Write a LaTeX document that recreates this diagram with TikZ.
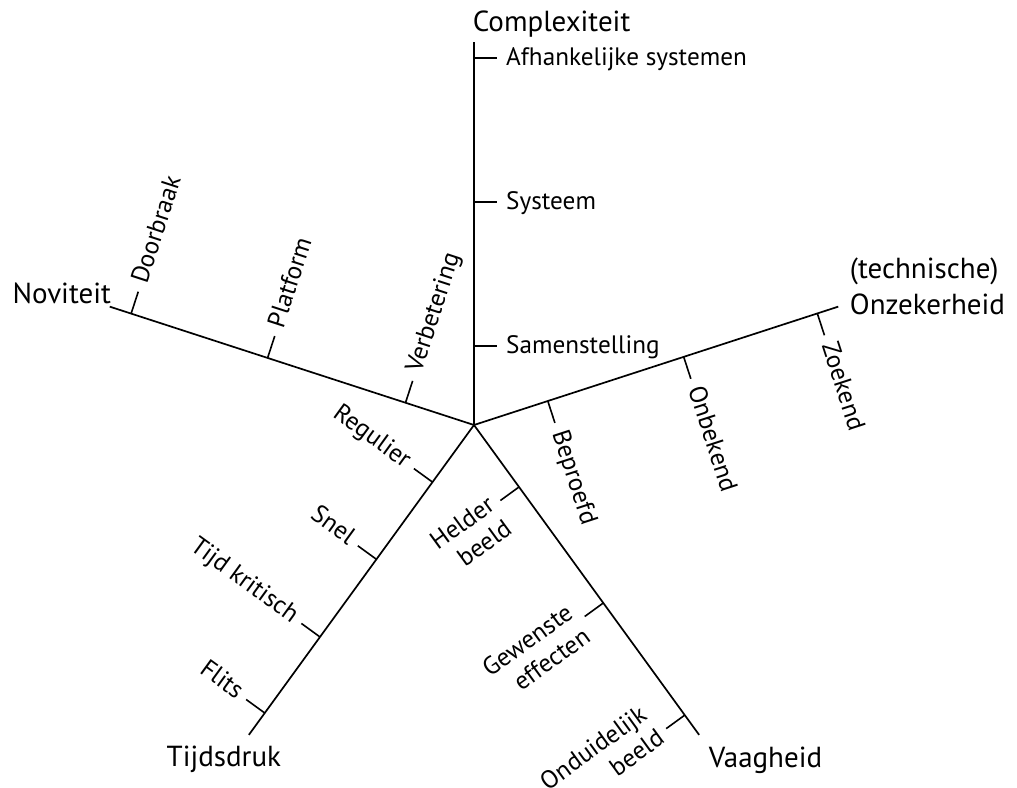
\documentclass[tikz,border=0pt]{standalone}
\usepackage{fontspec}
\setmainfont{PT Sans}
\usetikzlibrary{calc}
\begin{document}
\begin{tikzpicture}[x=1pt,y=1pt,
  axisline/.style={line width=1.7pt},
  tickline/.style={line width=1.6pt},
  lbl/.style={inner sep=0pt, font=\fontsize{25.2}{29.5}\selectfont},
  big/.style={inner sep=0pt, font=\fontsize{29}{35.7}\selectfont}]
\useasboundingbox (-474,-362) rectangle (543,425);
\coordinate (C) at (0,0);
\coordinate (Ce) at (90:383pt);
\coordinate (Ne) at (162:383pt);
\coordinate (Oe) at (18:383pt);
\coordinate (Te) at (234:383pt);
\coordinate (Ve) at (306:383pt);
\foreach \e in {Ce,Ne,Oe,Te,Ve} {\draw[axisline] (C) -- (\e);}
% Complexiteit
\foreach \d/\t/\n in {367/Afhankelijke systemen/c1, 223/Systeem/c2, 79/Samenstelling/c3} {
  \coordinate (\n b) at (90:\d pt);
  \coordinate (\n t) at ($(\n b)+(0:23pt)$);
  \draw[tickline] (\n b) -- (\n t);
  \node[lbl, anchor=base west] (\n) at ($(\n t)+(0:9pt)+(90:-8pt)$) {\t};
}
% Noviteit
\foreach \d/\t/\n in {360.5/Doorbraak/n1, 217/Platform/n2, 72/Verbetering/n3} {
  \coordinate (\n b) at (162:\d pt);
  \coordinate (\n t) at ($(\n b)+(72:23pt)$);
  \draw[tickline] (\n b) -- (\n t);
  \node[lbl, rotate=72, anchor=base west] (\n) at ($(\n t)+(72:9pt)+(162:-6pt)$) {\t};
}
% Onzekerheid
\foreach \d/\t/\n in {77.6/Beproefd/o1, 220.5/Onbekend/o2, 361/Zoekend/o3} {
  \coordinate (\n b) at (18:\d pt);
  \coordinate (\n t) at ($(\n b)+(-72:23pt)$);
  \draw[tickline] (\n b) -- (\n t);
  \node[lbl, rotate=-72, anchor=base west] (\n) at ($(\n t)+(-72:9pt)+(18:-6pt)$) {\t};
}
% Tijdsdruk
\foreach \d/\t/\n in {70.6/Regulier/t1, 166/Snel/t2, 262/Tijd kritisch/t3, 356/Flits/t4} {
  \coordinate (\n b) at (234:\d pt);
  \coordinate (\n t) at ($(\n b)+(144:23pt)$);
  \draw[tickline] (\n b) -- (\n t);
  \node[lbl, rotate=-36, anchor=base east] (\n) at ($(\n t)+(144:8pt)+(234:6pt)$) {\t};
}
% Vaagheid
\foreach \d/\t/\n/\o in {76.6/Helder\\beeld/v1/-10, 220/Gewenste\\effecten/v2/0, 358.6/Onduidelijk\\beeld/v3/13} {
  \coordinate (\n b) at (306:\d pt);
  \coordinate (\n t) at ($(\n b)+(216:23pt)$);
  \draw[tickline] (\n b) -- (\n t);
  \node[lbl, rotate=36, anchor=east, align=right] (\n) at ($(\n t)+(216:8pt)+(126:\o pt)$) {\t};
}
% axis titles
\node[big, anchor=base west] (cx) at ($(Ce)+(-1.3pt,10.5pt)$) {Complexiteit};
\node[big, anchor=base east] (nv) at ($(Ne)+(1.3pt,3.3pt)$) {Noviteit};
\node[big, anchor=base west] (oz) at ($(Oe)+(11.5pt,-8pt)$) {Onzekerheid};
\node[big, anchor=base west] (tc) at ($(oz.base west)+(0,35.7pt)$) {(technische)};
\node[big, anchor=base] (td) at ($(Te)+(-25pt,-31.8pt)$) {Tijdsdruk};
\node[big, anchor=base west] (vg) at ($(Ve)+(9.5pt,-32.4pt)$) {Vaagheid};
\end{tikzpicture}
\end{document}
